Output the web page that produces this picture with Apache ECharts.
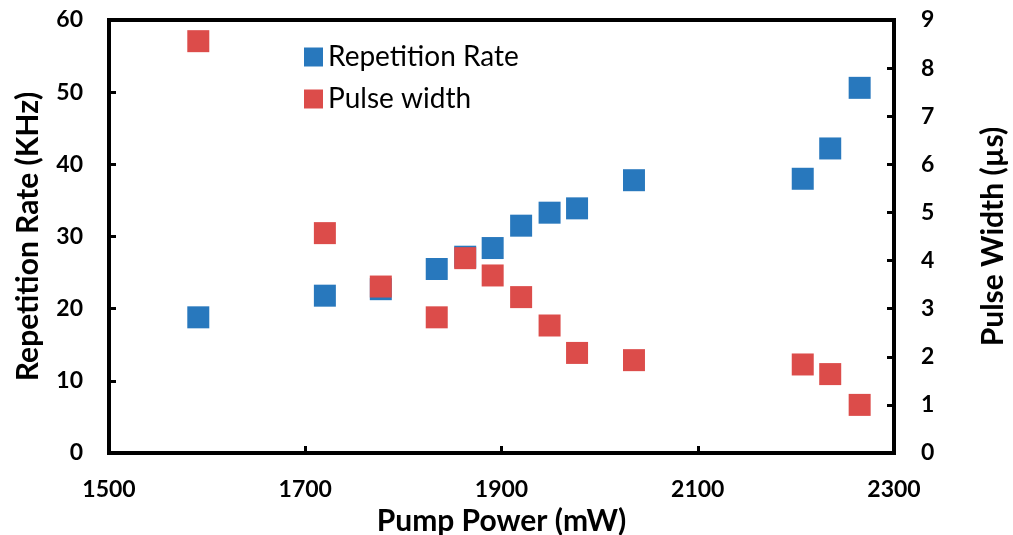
<!DOCTYPE html>
<html>
<head>
<meta charset="utf-8">
<script src="https://cdn.jsdelivr.net/npm/echarts@6/dist/echarts.min.js"></script>
<style>
html,body{margin:0;padding:0;background:#fff;}
#c{width:1013px;height:535px;}
</style>
</head>
<body>
<div id="c"></div>
<script>
var pumpPower = [1591, 1720, 1777, 1834, 1863, 1891, 1920, 1949, 1977, 2035, 2207, 2235, 2265];
var repRate   = [18.8, 21.8, 22.7, 25.5, 27.2, 28.4, 31.5, 33.3, 33.9, 37.8, 38.0, 42.2, 50.6];
var pulseWidth= [8.56, 4.57, 3.46, 2.82, 4.05, 3.69, 3.24, 2.65, 2.08, 1.93, 1.84, 1.64, 1.00];
var seriesNames = ['Repetition Rate', 'Pulse width'];
var axisTitles = {x: 'Pump Power (mW)', yLeft: 'Repetition Rate (KHz)', yRight: 'Pulse Width (\u00b5s)'};

var blue = '#2878bd', red = '#dc4c4a';
var FONT = 'Lato';

function pairs(xs, ys){ return xs.map(function(x,i){ return [x, ys[i]]; }); }

var chart = echarts.init(document.getElementById('c'), null, {renderer:'canvas'});
var axisLabelStyle = {color:'#000', fontFamily:FONT, fontWeight:'bold', fontSize:23};
var nameStyle = {color:'#000', fontFamily:FONT, fontWeight:'bold', fontSize:30};
chart.setOption({
  animation:false,
  backgroundColor:'#fff',
  grid:{left:109, right:119, top:20, bottom:82, show:true, borderColor:'#000', borderWidth:4,
        containLabel:false, outerBoundsMode:'none'},
  legend:{
    orient:'vertical', left:299, top:38, itemWidth:19, itemHeight:19, itemGap:14,
    icon:'rect',
    textStyle:{fontFamily:FONT, fontSize:28, color:'#000'},
    data:seriesNames
  },
  xAxis:{
    type:'value', min:1500, max:2300, interval:200,
    name:axisTitles.x, nameLocation:'middle', nameGap:50, nameTextStyle:nameStyle,
    axisLine:{show:true, lineStyle:{color:'#000', width:4}},
    axisTick:{show:true, inside:true, length:7, lineStyle:{color:'#000', width:3}},
    axisLabel:Object.assign({margin:25, formatter:function(v){return String(v);}}, axisLabelStyle),
    splitLine:{show:false}
  },
  yAxis:[{
    type:'value', min:0, max:60, interval:10,
    name:axisTitles.yLeft, nameLocation:'middle', nameGap:66, nameRotate:90, nameTextStyle:nameStyle,
    axisLine:{show:true, lineStyle:{color:'#000', width:4}},
    axisTick:{show:true, inside:true, length:7, lineStyle:{color:'#000', width:3}},
    axisLabel:Object.assign({margin:26}, axisLabelStyle),
    splitLine:{show:false}
  },{
    type:'value', min:0, max:9, interval:1, position:'right',
    name:axisTitles.yRight, nameLocation:'middle', nameGap:84, nameRotate:90, nameTextStyle:nameStyle,
    axisLine:{show:true, lineStyle:{color:'#000', width:4}},
    axisTick:{show:true, inside:true, length:7, lineStyle:{color:'#000', width:3}},
    axisLabel:Object.assign({margin:27}, axisLabelStyle),
    splitLine:{show:false}
  }],
  series:[{
    name:seriesNames[0], type:'scatter', yAxisIndex:0, symbol:'rect', symbolSize:22,
    itemStyle:{color:blue, opacity:1}, data:pairs(pumpPower, repRate), z:2
  },{
    name:seriesNames[1], type:'scatter', yAxisIndex:1, symbol:'rect', symbolSize:22,
    itemStyle:{color:red, opacity:1}, data:pairs(pumpPower, pulseWidth), z:3
  }]
});
</script>
</body>
</html>
